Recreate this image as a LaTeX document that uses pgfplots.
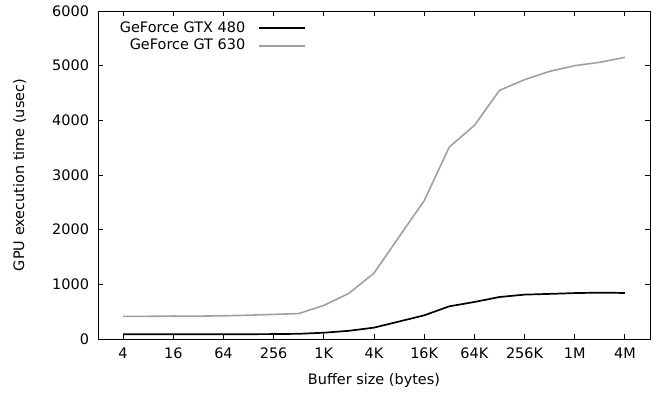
\documentclass[border=0pt]{standalone}
\usepackage{fontspec}
\setmainfont{DejaVu Sans}
\usepackage{pgfplots}
\pgfplotsset{compat=1.18}
\definecolor{gtgray}{HTML}{A0A0A0}
\begin{document}
\fontsize{14.5}{17}\selectfont
\begin{tikzpicture}
\begin{axis}[
  at={(0,0)}, anchor=south west,
  scale only axis, width=552bp, height=328bp,
  xmin=1, xmax=23, ymin=0, ymax=6000,
  xtick={2,4,6,8,10,12,14,16,18,20,22},
  xticklabels={4,16,64,256,1K,4K,16K,64K,256K,1M,4M},
  ytick={0,1000,2000,3000,4000,5000,6000},
  scaled y ticks=false,
  /pgf/number format/1000 sep={},
  /pgf/number format/assume math mode=true,
  tick align=inside, xtick pos=both, ytick pos=both,
  major tick length=5bp,
  axis line style={line width=0.9bp},
  every tick/.style={line width=0.9bp, black},
  tick label style={font=\fontsize{14.5}{17}\selectfont},
  label style={font=\fontsize{14.5}{17}\selectfont},
  xlabel={Buffer size (bytes)},
  ylabel={GPU execution time (usec)},
  xlabel style={at={(0.5,0)}, anchor=north, yshift=-30bp},
  ylabel style={at={(0,0.5)}, anchor=south, yshift=67bp},
  xticklabel style={yshift=-4bp},
  yticklabel style={xshift=-4bp},
  legend cell align=right,
  legend style={draw=none, fill=none, at={(0.377,0.975)}, anchor=north east,
    inner sep=0pt, row sep=1bp, font=\fontsize{14.5}{17}\selectfont,
    /tikz/every odd column/.append style={column sep=11bp}},
  legend plot pos=right,
  legend image code/.code={\draw[#1] (0bp,0bp) -- (46bp,0bp);},
  clip=false,
]
\addplot[black, line width=1.7bp] coordinates {
(2,88) (3,88) (4,88) (5,88) (6,88) (7,88) (8,90) (9,95) (10,115) (11,150) (12,208) (13,320) (14,433) (15,598) (16,677) (17,768) (18,812) (19,825) (20,840) (21,848) (22,842)
};
\addlegendentry{GeForce GTX 480}
\addplot[gtgray, line width=1.6bp] coordinates {
(2,415) (3,415) (4,420) (5,418) (6,425) (7,435) (8,450) (9,465) (10,615) (11,835) (12,1205) (13,1870) (14,2530) (15,3511) (16,3906) (17,4548) (18,4744) (19,4896) (20,5000) (21,5062) (22,5152)
};
\addlegendentry{GeForce GT 630}
\end{axis}
\path (-98bp,-53bp) rectangle (566bp,339bp);
\end{tikzpicture}
\end{document}
